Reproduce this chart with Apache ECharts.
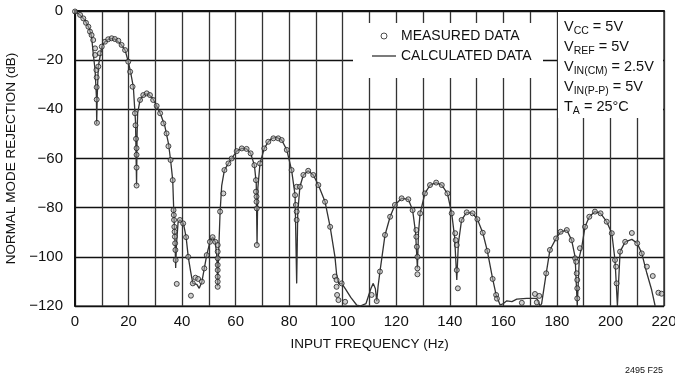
<!DOCTYPE html>
<html>
<head>
<meta charset="utf-8">
<script src="https://cdn.jsdelivr.net/npm/echarts@6/dist/echarts.min.js"></script>
<style>
html,body{margin:0;padding:0;background:#fff;}
#chart{width:675px;height:377px;}
</style>
</head>
<body>
<div id="chart"></div>
<script>
// ---- data ----
var xTicks = [0, 20, 40, 60, 80, 100, 120, 140, 160, 180, 200, 220];
var yTicks = [0, -20, -40, -60, -80, -100, -120];

// calculated curve: [frequency Hz, rejection dB]
var calcFreq = [0,1.9,3.7,5.3,6.2,6.8,7.5,8.0,8.1,8.3,8.7,10,11.2,13.1,14.9,16.8,18.7,19.9,20.8,21.8,22.6,23.0,23.2,23.4,24.3,25.9,27.4,29.0,30.5,32.1,33.6,34.9,35.7,36.5,36.9,37.4,37.6,37.9,38.5,39.2,40.5,41.5,42.3,43.2,44,45.5,46.4,47.4,48.3,49.2,50.4,51.4,52.4,53.0,53.3,53.6,54.2,54.8,55.8,57.3,58.5,60.4,62.3,64.1,65.6,67,67.7,68.0,68.3,69.1,70.7,72.2,73.5,75.3,77.2,79.1,80.9,82.2,82.8,83.2,84,85.3,87.1,89,90.9,93.4,95.3,97.1,97.8,98.5,99.6,101,103,105.2,106.5,108.7,110.5,111.4,112.2,112.7,113.2,113.9,115.8,117.7,119.5,122,124.5,126.1,127.2,127.9,128.3,128.9,130.7,132.6,134.9,137,139.1,140.7,141.8,142.6,143.2,144.4,146.3,148.5,150.3,152.3,154,156,157.3,158.8,160,161.3,163.2,165,168.7,172.5,173.7,174.3,176,177.4,179.7,181.4,183.7,185.5,186.8,187.6,188.4,189.3,190.5,192.1,194.2,196.3,198.6,200.5,201.7,202.6,203.6,205.5,208,210,211.7,213.6,215.4,216.7];
var calcDb = [0,-1.6,-3.7,-7,-10.4,-17.2,-24,-35,-46,-35,-22.6,-14.5,-12.5,-11.1,-11.4,-13.1,-15.9,-20.6,-25.1,-31,-45,-71,-50,-41.5,-36.2,-33.8,-33.8,-35.5,-38.6,-42.3,-47,-53.8,-60.6,-68.8,-81.6,-95,-104.5,-95,-86,-85,-86.4,-92,-100,-106,-110.8,-111.2,-112.8,-110.1,-104.7,-99.3,-93.9,-92,-93.9,-100,-112,-100,-81.6,-71,-64.7,-62,-60,-57,-55.9,-56.1,-57.9,-62.7,-70,-95,-72,-62,-55.9,-53.2,-51.8,-51.4,-52.5,-56.5,-64.7,-74.9,-110.8,-82,-71.5,-66.7,-65,-66.7,-70.8,-77.6,-87.8,-100,-108,-111,-110.8,-113,-116.5,-119.6,-120,-119,-113,-110.8,-113,-118,-112,-106,-91.1,-83.7,-78.9,-76.2,-76.6,-81,-90,-104.7,-90,-82.3,-74.2,-70.8,-69.8,-70.8,-74.2,-82.3,-92,-109.4,-94.5,-85,-81.9,-82.3,-84.7,-90.2,-97.6,-109,-115.5,-119.6,-119,-117.9,-118.2,-117.2,-116.9,-116.9,-120,-119,-106.7,-97.2,-92.5,-89.8,-89.1,-93.2,-100,-120,-100,-95.9,-87.8,-83.7,-81.6,-82.3,-85.7,-90.4,-101.3,-120,-97.9,-93.9,-92.9,-94.5,-98.6,-106.7,-113.5,-120];

// measured points: [frequency Hz, rejection dB]
var measFreq = [0,1.9,3.1,4.1,5,5.6,6.2,6.8,7.5,7.5,8.0,8.1,8.1,8.1,8.2,8.7,9.3,10,11.2,12.4,13.7,14.9,16.2,17.4,18.7,19.9,20.6,21.5,22.4,22.6,22.8,23.0,23.0,23.0,23.0,24.3,25.5,26.8,28,29.2,30.5,31.8,33,34.2,34.9,35.7,36.5,36.8,36.9,37.0,37.1,37.2,37.3,37.4,37.5,37.6,38,39.2,40.4,41.5,42.3,43.3,44,45,46,47.4,48.3,49.2,50.4,51.4,52.4,53.3,53.3,53.3,53.3,53.3,53.3,53.3,53.3,54.2,55.4,55.8,57.3,58.5,60.4,62.3,64.1,65.6,67,67.6,67.6,67.8,67.8,67.9,67.9,69.1,70.7,72.2,74.1,75.9,77.2,79.1,80.9,82.2,82.5,82.8,82.8,82.8,84,85.3,87.1,89,90.9,93.4,95.3,97.1,97.7,97.7,97.9,98.4,99.6,100.9,110.8,112.7,113.9,115.8,117.7,119.5,122,124.5,126.1,127.5,127.5,127.7,127.9,127.9,127.9,128.9,130.7,132.6,134.9,137,139.1,140.7,142,142.2,142.6,142.6,143,144.4,146.3,148.5,150.3,152.3,154,156,157.3,157.6,166.9,171.8,172.5,173.4,176,177.4,179.7,181.4,183.7,185.5,186.8,187.2,187.4,187.6,187.6,187.6,188.6,190.5,192.1,194.2,196.3,198.6,200.5,201.7,202.1,202.3,203.6,205.5,208,210,211.7,213.6,215.8,217.9,219.1];
var measDb = [-0.2,-1.6,-3,-4.8,-6.4,-8.4,-9.8,-11.8,-15.2,-17.9,-24,-27,-31,-36,-45.5,-22.6,-17.2,-14.5,-12.5,-11.5,-11.1,-11.4,-12.1,-13.8,-15.9,-20.6,-24.7,-30.8,-41.6,-46.5,-52,-55.8,-58.5,-63.7,-71,-36.2,-34.2,-33.5,-34.2,-36.2,-38.6,-41.6,-45.7,-49.8,-55,-60.6,-68.8,-81,-83,-85,-87.8,-89.8,-91.8,-94.5,-97.2,-101.3,-111,-85,-86.4,-92,-100,-115.8,-110.8,-108.5,-109,-110.1,-104.7,-99.3,-93.9,-92,-93.9,-95.2,-97.9,-100.6,-103.3,-105.4,-108.1,-110.1,-112.2,-81.6,-74.2,-64.7,-62,-60,-57,-55.9,-56.1,-57.9,-62.7,-68.8,-73.5,-75.5,-77.6,-80.3,-95.2,-62,-55.9,-53.2,-51.8,-51.8,-52.5,-56.5,-64.7,-74.9,-78.9,-81.6,-85,-71.5,-71.5,-66.7,-65,-66.7,-70.8,-77.6,-87.8,-108,-109.4,-112.2,-115.5,-117.6,-110.8,-118.3,-115.5,-118,-106,-91.1,-83.7,-78.9,-76.2,-76.6,-81,-89.1,-91.8,-95.9,-100,-104.7,-107.1,-82.3,-74.2,-70.8,-69.8,-70.8,-74.2,-82.3,-90.4,-93.2,-95.2,-105.4,-112.8,-85,-81.9,-82.3,-84.7,-90.2,-97.6,-109,-115.5,-117,-118.7,-115.1,-118.5,-115.9,-106.7,-97.2,-92.5,-89.8,-89.1,-93.2,-100.6,-102,-106.7,-109.4,-112.8,-116.9,-96.5,-87.8,-83.7,-81.6,-82.3,-85.7,-90.4,-101.3,-104,-110.8,-97.9,-93.9,-90.3,-94.5,-98.6,-104,-107.8,-114.6,-115];

// ---- build ----
var FONT = "'Liberation Sans','Arial',sans-serif";
function pairs(xs, ys) { var out = []; for (var i = 0; i < xs.length; i++) out.push([xs[i], ys[i]]); return out; }
var calcData = pairs(calcFreq, calcDb);
var measData = pairs(measFreq, measDb);

var chart = echarts.init(document.getElementById('chart'), null, {renderer: 'canvas'});
var option = {
  animation: false,
  backgroundColor: '#fff',
  grid: {left: 75, right: 11, top: 11, bottom: 71, outerBoundsMode: 'none', containLabel: false,
         show: true, borderColor: '#111', borderWidth: 1.2, backgroundColor: 'transparent'},
  xAxis: {
    type: 'value', min: 0, max: 220, interval: 10,
    name: 'INPUT FREQUENCY (Hz)', nameLocation: 'middle', nameGap: 31,
    nameTextStyle: {fontFamily: FONT, fontSize: 13.5, color: '#111'},
    axisLine: {show: true, lineStyle: {color: '#111', width: 2}},
    axisTick: {show: false},
    splitLine: {show: true, lineStyle: {color: '#333', width: 1.3}},
    axisLabel: {
      fontFamily: FONT, fontSize: 15, color: '#111', margin: 8,
      formatter: function (v) { return xTicks.indexOf(v) >= 0 ? String(v) : ''; }
    }
  },
  yAxis: {
    type: 'value', min: -120, max: 0, interval: 20,
    name: 'NORMAL MODE REJECTION (dB)', nameLocation: 'middle', nameGap: 49,
    nameTextStyle: {fontFamily: FONT, fontSize: 13.5, color: '#111'},
    axisLine: {show: true, lineStyle: {color: '#111', width: 2}},
    axisTick: {show: false},
    splitLine: {show: true, lineStyle: {color: '#111', width: 1.3}},
    axisLabel: {
      fontFamily: FONT, fontSize: 15, color: '#111', margin: 12,
      formatter: function (v) { return yTicks.indexOf(v) >= 0 ? String(v).replace('-', '\u2212') : ''; }
    }
  },
  legend: {
    orient: 'vertical', left: 372, top: 29, padding: 0, itemGap: 6,
    itemWidth: 24, itemHeight: 6, z: 8,
    textStyle: {fontFamily: FONT, fontSize: 14, color: '#111'},
    data: [
      {name: 'MEASURED DATA', icon: 'circle', itemStyle: {color: '#fff', borderColor: '#222', borderWidth: 1}},
      {name: 'CALCULATED DATA', icon: 'path://M0,0H24V1.3H0Z', itemStyle: {color: '#333'}}
    ]
  },
  graphic: [
    {type: 'rect', z: 3, shape: {x: 353, y: 23, width: 190, height: 55}, style: {fill: '#fff'}},
    {type: 'rect', z: 3, shape: {x: 558, y: 12, width: 105, height: 106}, style: {fill: '#fff'}},
    {type: 'text', z: 10, left: 564, top: 19, style: {
      text: '{m|V}{s|CC}{m| = 5V}\n{m|V}{s|REF}{m| = 5V}\n{m|V}{s|IN(CM)}{m| = 2.5V}\n{m|V}{s|IN(P-P)}{m| = 5V}\n{m|T}{s|A}{m| = 25°C}',
      rich: {
        m: {fontFamily: FONT, fontSize: 14.5, lineHeight: 20, fill: '#111'},
        s: {fontFamily: FONT, fontSize: 10.5, lineHeight: 13, verticalAlign: 'bottom', fill: '#111'}
      }
    }},
    {type: 'text', z: 10, right: 12, top: 366, style: {text: '2495 F25', fontFamily: FONT, fontSize: 9, fill: '#111'}}
  ],
  series: [
    {
      name: 'CALCULATED DATA', type: 'line', data: calcData, symbol: 'none', z: 4,
      lineStyle: {color: '#333', width: 1.3}, itemStyle: {color: '#333'}
    },
    {
      name: 'MEASURED DATA', type: 'scatter', data: measData, symbol: 'circle', symbolSize: 5, z: 5,
      itemStyle: {color: 'rgba(170,170,170,0.7)', borderColor: '#222', borderWidth: 1}
    }
  ]
};
chart.setOption(option);
</script>
</body>
</html>
